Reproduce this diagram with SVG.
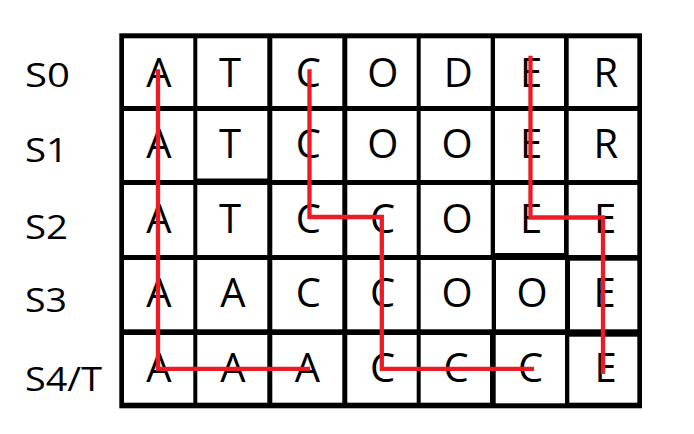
<svg xmlns="http://www.w3.org/2000/svg" width="694" height="434" viewBox="0 0 694 434">
<style>
.cell{fill:#fff}
.ch{font-family:"Open Sans","Noto Sans",sans-serif;font-size:40px;fill:#000;text-anchor:middle}
.lb{font-family:"Open Sans","Noto Sans",sans-serif;font-size:33px;fill:#000}
.path{fill:none;stroke:#ed1c24;stroke-width:4.3;stroke-linejoin:miter;stroke-linecap:butt}
</style>
<rect x="0" y="0" width="694" height="434" fill="#fff"/>
<g id="labels">
<text class="lb" x="25" y="87.3" textLength="45" lengthAdjust="spacingAndGlyphs">S0</text>
<text class="lb" x="25" y="161.7" textLength="43" lengthAdjust="spacingAndGlyphs">S1</text>
<text class="lb" x="25" y="239" textLength="43" lengthAdjust="spacingAndGlyphs">S2</text>
<text class="lb" x="25" y="311.7" textLength="42" lengthAdjust="spacingAndGlyphs">S3</text>
<text class="lb" x="25" y="390.7" textLength="77" lengthAdjust="spacingAndGlyphs">S4/T</text>
</g>
<g id="grid">
<rect x="119.3" y="33.3" width="522.7" height="375" fill="#000"/>
<!-- row 0 -->
<rect class="cell" x="124" y="38.3" width="69.3" height="67.7"/>
<rect class="cell" x="197.3" y="38.3" width="70" height="67.7"/>
<rect class="cell" x="272.3" y="38.3" width="70" height="67.7"/>
<rect class="cell" x="347.3" y="38.3" width="69.4" height="67.7"/>
<rect class="cell" x="420.7" y="38.3" width="70" height="67.7"/>
<rect class="cell" x="495" y="38.3" width="69" height="67.7"/>
<rect class="cell" x="568.7" y="38.3" width="68.6" height="67.7"/>
<!-- row 1 -->
<rect class="cell" x="124" y="111" width="69.3" height="69"/>
<rect class="cell" x="197.3" y="111" width="70" height="67.5"/>
<rect class="cell" x="272.3" y="111" width="70" height="69"/>
<rect class="cell" x="347.3" y="111" width="69.4" height="69"/>
<rect class="cell" x="420.7" y="111" width="70" height="69"/>
<rect class="cell" x="495" y="111" width="69" height="69"/>
<rect class="cell" x="568.7" y="111" width="68.6" height="69"/>
<!-- row 2 -->
<rect class="cell" x="124" y="185" width="69.3" height="70"/>
<rect class="cell" x="197.3" y="185" width="70" height="70"/>
<rect class="cell" x="272.3" y="185" width="70" height="70"/>
<rect class="cell" x="347.3" y="185" width="69.4" height="70"/>
<rect class="cell" x="420.7" y="185" width="70" height="70"/>
<rect class="cell" x="495" y="185" width="69" height="68"/>
<rect class="cell" x="568.7" y="185" width="68.6" height="70"/>
<!-- row 3 -->
<rect class="cell" x="124" y="260" width="69.3" height="69.3"/>
<rect class="cell" x="197.3" y="260" width="70" height="69.3"/>
<rect class="cell" x="272.3" y="260" width="70" height="69.3"/>
<rect class="cell" x="347.3" y="260" width="69.4" height="69.3"/>
<rect class="cell" x="420.7" y="260" width="71" height="69.3"/>
<rect class="cell" x="496" y="260" width="69" height="69.3"/>
<rect class="cell" x="570" y="260.7" width="67.3" height="68.6"/>
<!-- row 4 -->
<rect class="cell" x="124" y="335" width="69.3" height="67.7"/>
<rect class="cell" x="197.3" y="335" width="70" height="67.7"/>
<rect class="cell" x="272.3" y="335" width="70" height="67.7"/>
<rect class="cell" x="347.3" y="335" width="69.4" height="67.7"/>
<rect class="cell" x="420.7" y="335" width="69.3" height="67.7"/>
<rect class="cell" x="495.7" y="335" width="69.3" height="68.3"/>
<rect class="cell" x="569.3" y="336.7" width="68" height="66"/>
</g>
<g id="letters">
<text class="ch" x="159" y="86.7">A</text>
<text class="ch" x="230" y="86.7">T</text>
<text class="ch" x="308.3" y="86.7">C</text>
<text class="ch" x="382.8" y="86.7">O</text>
<text class="ch" x="458.3" y="86.7">D</text>
<text class="ch" x="531" y="86.7">E</text>
<text class="ch" x="605.8" y="86.7">R</text>

<text class="ch" x="159" y="158.3">A</text>
<text class="ch" x="230" y="158.3">T</text>
<text class="ch" x="308.3" y="158.3">C</text>
<text class="ch" x="382.8" y="158.3">O</text>
<text class="ch" x="457" y="158.3">O</text>
<text class="ch" x="531" y="158.3">E</text>
<text class="ch" x="605.8" y="158.3">R</text>

<text class="ch" x="159" y="233.3">A</text>
<text class="ch" x="230" y="233.3">T</text>
<text class="ch" x="308.3" y="233.3">C</text>
<text class="ch" x="382.5" y="233.3">C</text>
<text class="ch" x="457" y="233.3">O</text>
<text class="ch" x="531" y="233.3">E</text>
<text class="ch" x="605" y="233.3">E</text>

<text class="ch" x="159" y="307.3">A</text>
<text class="ch" x="233" y="307.3">A</text>
<text class="ch" x="308.3" y="307.3">C</text>
<text class="ch" x="382.5" y="307.3">C</text>
<text class="ch" x="457" y="307.3">O</text>
<text class="ch" x="532" y="307.3">O</text>
<text class="ch" x="604.7" y="307.3">E</text>

<text class="ch" x="159" y="381.7">A</text>
<text class="ch" x="233" y="381.7">A</text>
<text class="ch" x="307.5" y="381.7">A</text>
<text class="ch" x="382.5" y="381.7">C</text>
<text class="ch" x="456" y="381.7">C</text>
<text class="ch" x="530.5" y="381.7">C</text>
<text class="ch" x="605.5" y="381.7">E</text>
</g>
<g id="connectors">
<path class="path" d="M158,69.3 V368.8 H310"/>
<path class="path" d="M309.5,69.3 V217 H381.8 V368.8 H534"/>
<path class="path" d="M530.5,55.7 V217.5 H603 V374"/>
</g>
</svg>
